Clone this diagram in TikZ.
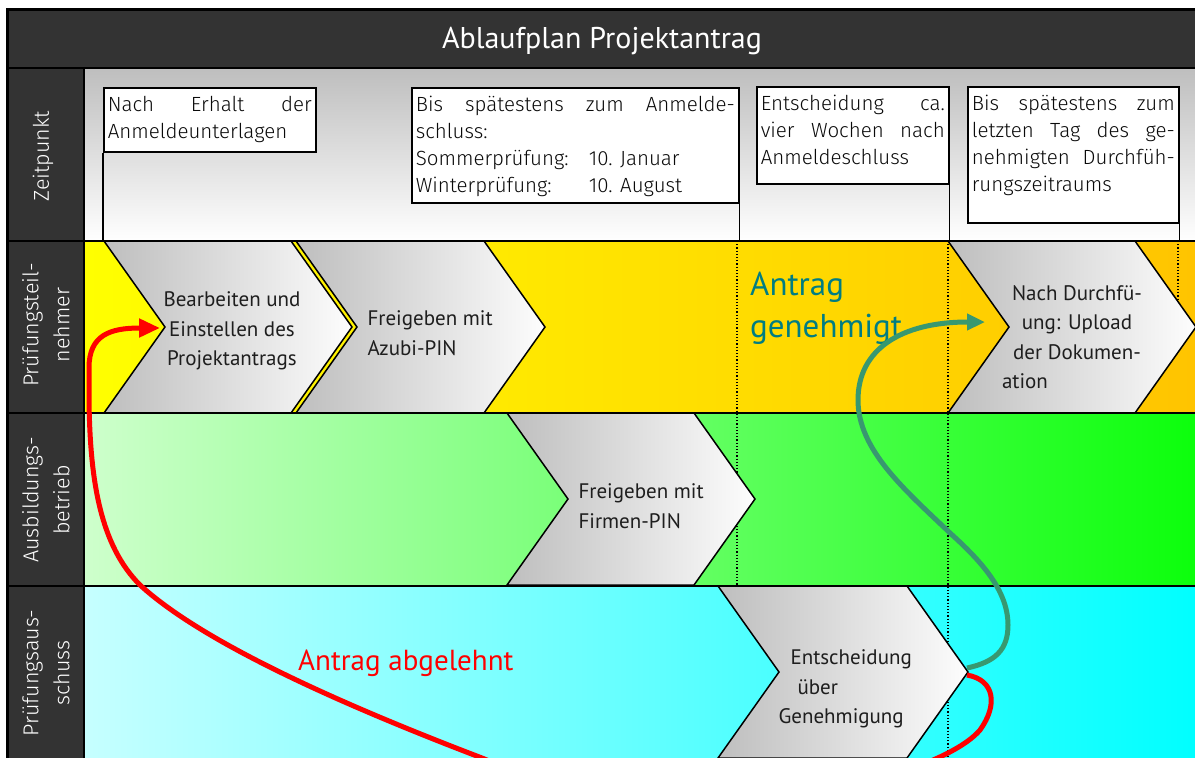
\documentclass[tikz,border=0pt]{standalone}
\usepackage{fontspec}
\setmainfont{Fira Sans Light}
\newfontfamily\ptf{PT Sans}
\newfontfamily\lightf{Fira Sans Light}
\usetikzlibrary{arrows.meta,calc}

\definecolor{barcol}{RGB}{51,51,51}
\definecolor{zgray}{RGB}{190,190,190}
\definecolor{yelL}{RGB}{255,255,0}
\definecolor{yelR}{RGB}{255,196,0}
\definecolor{grnL}{RGB}{206,255,204}
\definecolor{grnR}{RGB}{12,255,12}
\definecolor{cyaL}{RGB}{198,255,255}
\definecolor{cyaR}{RGB}{0,255,255}
\definecolor{chevL}{RGB}{190,190,190}
\definecolor{chevR}{RGB}{253,253,253}
\definecolor{okcol}{RGB}{56,152,112}
\definecolor{oktext}{RGB}{0,125,130}
\definecolor{nocol}{RGB}{255,0,0}
\definecolor{chevtext}{RGB}{30,30,30}
\definecolor{boxtext}{RGB}{10,10,10}

\newcommand{\zbox}[3]{\begin{minipage}[c][#2][t]{#1}\fontsize{20.5pt}{27pt}\selectfont\strut #3\end{minipage}}
\newcommand{\chevshape}[3]{\shadedraw[chev] (#1,#2) -- ++(#3,0) -- ++(61,86) -- ++(-61,86) -- ++(-#3,0) -- ++(61,-86) -- cycle;}

\begin{document}
\begin{tikzpicture}[x=1pt,y=-1pt,
  tbox/.style={draw=black, line width=1.6pt, fill=white, inner xsep=4pt, inner ysep=5pt, anchor=north west, font=\lightf, text=boxtext},
  lab/.style={text=white, font=\lightf\fontsize{21.5pt}{31pt}\selectfont, align=center, rotate=90},
  chev/.style={left color=chevL, right color=chevR, draw=black, line width=1.5pt, line join=miter},
  chevtxt/.style={font=\ptf\fontsize{21pt}{29.5pt}\selectfont, text=chevtext},
  sep/.style={line width=2.5pt, black},
  dotline/.style={line width=1.2pt, dotted, black},
  vline/.style={line width=1.6pt, black},
  flow/.style={line width=5pt},
]
\useasboundingbox (0,0) rectangle (1195,758);
\fill[white] (0,0) rectangle (1195,758);
\begin{scope}
\clip (0,0) rectangle (1195,758);
% title bar and left column
\fill[barcol] (7,9) rectangle (1210,68);
\fill[barcol] (7,68) rectangle (84,790);
% lanes
\shade[top color=zgray, bottom color=white] (84,68) rectangle (1196,241);
\shade[left color=yelL, right color=yelR] (84,241) rectangle (1196,413);
\shade[left color=grnL, right color=grnR] (84,413) rectangle (1196,586);
\shade[left color=cyaL, right color=cyaR] (84,586) rectangle (1196,790);
% row coordinates
\coordinate (r1) at (0,241);
% dotted milestones
\draw[dotline] (737,241) -- (737,586);
\draw[dotline] (948,241) -- (948,790);
\draw[dotline] (1178,241) -- (1178,300);
% chevrons
\chevshape{104}{241}{187}
\chevshape{296}{241}{188}
\chevshape{948}{241}{187}
\chevshape{507}{413}{187}
\chevshape{718}{586}{189}
\coordinate (c1in) at (160,328);
\coordinate (c3in) at (985,322);
\coordinate (c5tip) at (967,672);
% separators and frame
\draw[sep] (7,68) -- (1210,68);
\draw[sep] (7,241) -- (1210,241);
\draw[sep] (7,413) -- (1210,413);
\draw[sep] (7,586) -- (1210,586);
\draw[sep] (84,68) -- (84,790);
\draw[line width=3pt] (7,9) rectangle (1210,800);
% title
\node[font=\ptf\fontsize{30pt}{36pt}\selectfont, text=white, anchor=base] (title) at (602,48) {Ablaufplan Projektantrag};
% lane labels
\node[lab] (l0) at (43,156) {Zeitpunkt};
\node[lab] (l1) at (46,325) {Prüfungsteil-\\nehmer};
\node[lab] (l2) at (46,500) {Ausbildungs-\\betrieb};
\node[lab] (l3) at (46,673) {Prüfungsaus-\\schuss};
% time boxes
\node[tbox] (b1) at (103,87) {\zbox{204pt}{54pt}{Nach\hfill Erhalt\hfill der\\Anmeldeunterlagen}};
\node[tbox] (b2) at (411,87) {\zbox{319pt}{105pt}{Bis\hfill spätestens\hfill zum\hfill Anmelde-\\schluss:\\\makebox[173pt][l]{Sommerprüfung:}10. Januar\\\makebox[173pt][l]{Winterprüfung:}10. August}};
\node[tbox] (b3) at (756,86) {\zbox{184pt}{87pt}{Entscheidung\hfill ca.\\vier\hfill Wochen\hfill nach\\Anmeldeschluss}};
\node[tbox] (b4) at (967,86) {\zbox{203pt}{126pt}{Bis\hfill spätestens\hfill zum\\letzten\hfill Tag\hfill des\hfill ge-\\nehmigten\hfill Durchfüh-\\rungszeitraums}};
\draw[vline] (b1.south west) -- (b1.south west |- r1);
\draw[vline] (b2.south east) -- (b2.south east |- r1);
\draw[vline] (b3.south east) -- (b3.south east |- r1);
\draw[vline] (b4.south east) -- (b4.south east |- r1);
% chevron texts
\node[chevtxt, align=center] (t1) at (232,331) {Bearbeiten und\\Einstellen des\\Projektantrags};
\node[chevtxt, align=left, anchor=west] (t2) at (364,333) {Freigeben mit\\Azubi-PIN};
\node[chevtxt, align=center] (t3) at (1077,337) {Nach Durchfü-\\ung: Upload\\der Dokumen-\\\makebox[150pt][l]{ation}};
\node[chevtxt, align=left, anchor=west] (t4) at (575,506) {Freigeben mit\\Firmen-PIN};
\node[chevtxt, align=left, anchor=west] (t5) at (775,689) {\hspace*{12pt}Entscheidung\\\hspace*{19pt}über\\Genehmigung};
% outcome labels
\node[font=\ptf\fontsize{33pt}{42pt}\selectfont, text=oktext, align=left, anchor=west, inner sep=0pt] (ok) at (750,308) {Antrag\\genehmigt};
\node[font=\ptf\fontsize{29pt}{34pt}\selectfont, text=nocol, anchor=base west, inner sep=0pt] (no) at (298,670) {Antrag abgelehnt};
% connectors
\draw[flow, nocol, -{Triangle[length=21pt,width=18pt]}] ([yshift=-3pt]c5tip) .. controls (995,680) and (998,705) .. (980,730) .. controls (955,760) and (850,800) .. (700,800) .. controls (600,800) and (530,778) .. (482,758) .. controls (330,700) and (200,640) .. (140,585) .. controls (100,545) and (90,480) .. (89,400) -- (89,368) .. controls (89,335) and (110,328) .. (c1in);
\draw[flow, okcol, -{Triangle[length=18pt,width=16pt]}] ([yshift=4pt]c5tip) .. controls (995,662) and (1008,650) .. (1008,625) .. controls (1008,590) and (980,560) .. (950,533) .. controls (905,490) and (858,450) .. (858,400) .. controls (858,350) and (900,322) .. (c3in);
\end{scope}
\end{tikzpicture}
\end{document}
